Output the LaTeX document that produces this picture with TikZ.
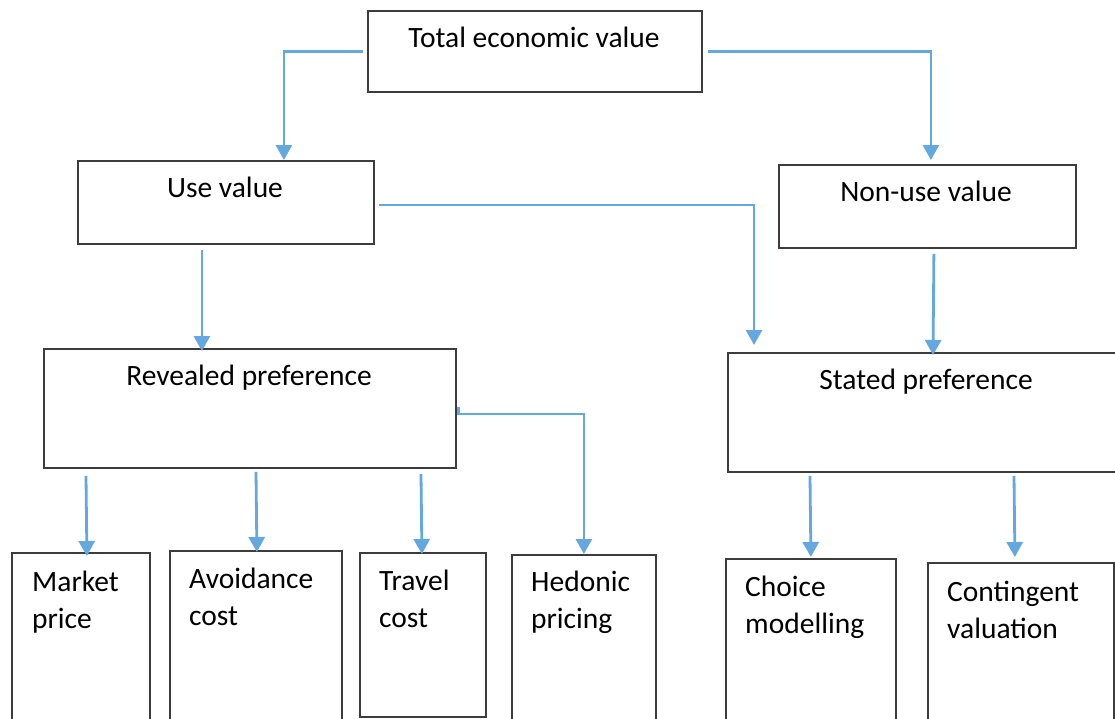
\documentclass[tikz,border=0pt]{standalone}
\usepackage{fontspec}
\setmainfont{Carlito}
\usetikzlibrary{arrows.meta,calc}
\definecolor{boxline}{HTML}{3C3C3C}
\definecolor{arrowblue}{HTML}{65A8E0}
\begin{document}
\begin{tikzpicture}[x=1pt,y=-1pt,
  box/.style={draw=boxline, line width=1.8pt, anchor=north west, inner sep=0pt, rectangle},
  conn/.style={draw=arrowblue, line width=2.8pt, -{Triangle[width=16pt,length=15pt]}},
  lbl/.style={font=\fontsize{29.5}{37}\selectfont, inner sep=0pt, anchor=base},
  lbll/.style={lbl, anchor=base west, align=left}]
\useasboundingbox (0,0) rectangle (1115,718);
\clip (0,0) rectangle (1115,718);
\fill[white] (0,0) rectangle (1115,718);
% boxes
\node[box, minimum width=334pt, minimum height=81pt] (tev) at (367,10) {};
\node[box, minimum width=296pt, minimum height=83pt] (use) at (77,160) {};
\node[box, minimum width=297pt, minimum height=83pt] (nonuse) at (778,164) {};
\node[box, minimum width=412pt, minimum height=119pt] (rev) at (43,348) {};
\node[box, minimum width=400pt, minimum height=119pt] (stated) at (727,352) {};
\node[box, minimum width=138pt, minimum height=180pt] (market) at (11,552) {};
\node[box, minimum width=172pt, minimum height=180pt] (avoid) at (169,550) {};
\node[box, minimum width=126pt, minimum height=164pt] (travel) at (359,552) {};
\node[box, minimum width=144pt, minimum height=180pt] (hed) at (511,554) {};
\node[box, minimum width=170pt, minimum height=180pt] (choice) at (725,558) {};
\node[box, minimum width=186pt, minimum height=180pt] (cont) at (927,562) {};
% labels
\node[lbl] (tevt) at (534,47) {Total economic value};
\node[lbl] (uset) at (225,197) {Use value};
\node[lbl] (nonuset) at (926,201) {Non-use value};
\node[lbl] (revt) at (249,385) {Revealed preference};
\node[lbl] (statedt) at (926,389) {Stated preference};
\node[lbll] (markett) at (32,628) {Market\\price};
\node[lbll] (avoidt) at (189,625) {Avoidance\\cost};
\node[lbll] (travelt) at (379,627) {Travel\\cost};
\node[lbll] (hedt) at (531,628) {Hedonic\\pricing};
\node[lbll] (choicet) at (745,633) {Choice\\modelling};
\node[lbll] (contt) at (947,638) {Contingent\\valuation};
% connectors
\draw[conn] ($(tev.west)+(-4,0)$) -| ($(use.north)+(58,0)$);
\draw[conn] ($(tev.east)+(5,0)$) -| ($(nonuse.north)+(3.5,-4)$);
\draw[conn] ($(use.south)+(-24,5)$) -- ($(rev.north)+(-48,3)$);
\draw[conn] ($(use.east)+(4,2.5)$) -| ($(stated.north west)+(27,-7)$);
\draw[conn] ($(nonuse.south)+(6.5,5)$) -- ($(stated.north west)+(206,3)$);
\draw[conn] ($(rev.east)+(2,-1.5)$) -- ++(0,7) -| (hed.north);
\draw[conn] ($(rev.south west)+(43,7)$) -- ($(market.north)+(6,4)$);
\draw[conn] ($(rev.south west)+(213,3)$) -- ($(avoid.north)+(1,2)$);
\draw[conn] ($(rev.south west)+(378,5)$) -- ($(travel.north)+(-1,2)$);
\draw[conn] ($(stated.south west)+(83,3)$) -- ($(choice.north)+(0,-1)$);
\draw[conn] ($(stated.south west)+(287,3)$) -- ($(cont.north)+(-6,-5)$);
\end{tikzpicture}
\end{document}
